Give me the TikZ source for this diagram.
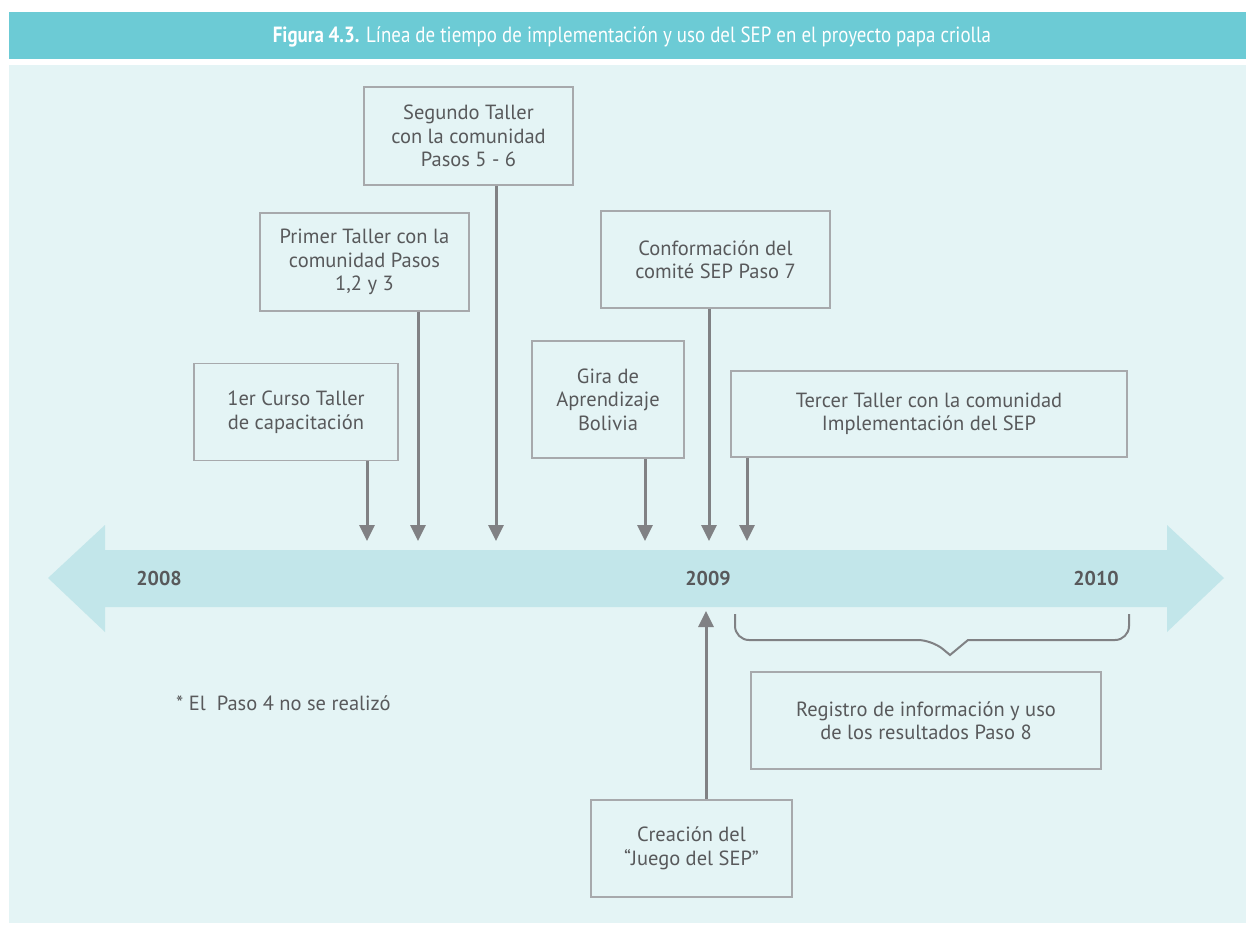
\documentclass[tikz,border=0pt]{standalone}
\usepackage{fontspec}
\setmainfont{PT Sans}
\usetikzlibrary{arrows.meta}
\definecolor{hdr}{HTML}{6CCBD5}
\definecolor{panel}{HTML}{E4F4F5}
\definecolor{band}{HTML}{C2E6EA}
\definecolor{txt}{HTML}{58595B}
\definecolor{edge}{HTML}{A7A9AC}
\definecolor{arrc}{HTML}{808184}
\begin{document}
\begin{tikzpicture}[x=1pt,y=-1pt,
  evbox/.style={draw=edge,line width=1.6pt,inner sep=0pt,text=txt,align=center,font=\fontsize{20.5}{23.5}\selectfont},
  arr/.style={draw=arrc,line width=3pt,-{Triangle[length=16pt,width=15pt]}},
  yr/.style={text=txt,font=\fontsize{20}{22}\selectfont\bfseries}]
\useasboundingbox (0,0) rectangle (1246,924);
\fill[white] (0,0) rectangle (1246,924);
\fill[hdr] (9,12) rectangle (1246,59);
\fill[panel] (9,65) rectangle (1246,923);
\node[text=white,font=\fontsize{22}{26}\selectfont] (title) at (632,37) {\scalebox{0.86}[1]{\textbf{Figura 4.3.} Línea de tiempo de implementación y uso del SEP en el proyecto papa criolla}};
% timeline
\fill[band] (48,578) -- (105,525) -- (105,550) -- (1167,550) -- (1167,525) -- (1224,578) -- (1167,632) -- (1167,607) -- (105,607) -- (105,632) -- cycle;
\node[yr] (y8) at (159,578) {2008};
\node[yr] (y9) at (708,578) {2009};
\node[yr] (y10) at (1096,578) {2010};
% boxes
\node[evbox,minimum width=204pt,minimum height=97pt] (b1) at (296,412) {1er Curso Taller\\de capacitación};
\node[evbox,minimum width=209pt,minimum height=98pt] (b2) at (364.5,262) {Primer Taller con la\\comunidad Pasos\\1,2 y 3};
\node[evbox,minimum width=209pt,minimum height=98pt] (b3) at (468.5,136) {Segundo Taller\\con la comunidad\\Pasos 5 - 6};
\node[evbox,minimum width=152pt,minimum height=117pt] (b4) at (608,399.5) {Gira de\\Aprendizaje\\Bolivia};
\node[evbox,minimum width=229pt,minimum height=97pt] (b5) at (715.5,259.5) {Conformación del\\comité SEP Paso 7};
\node[evbox,minimum width=396pt,minimum height=86pt] (b6) at (929,414) {Tercer Taller con la comunidad\\Implementación del SEP};
\node[evbox,minimum width=350pt,minimum height=97pt] (b7) at (926,720.5) {Registro de información y uso\\de los resultados Paso 8};
\node[evbox,minimum width=201pt,minimum height=97pt] (b8) at (691.5,848.5) {Creación del\\“Juego del SEP”};
\node[text=txt,font=\fontsize{20.5}{23}\selectfont,anchor=west,inner sep=0pt] (note) at (176,703) {* El\ \ Paso 4 no se realizó};
% arrow ends
\coordinate (t1) at (367,541);
\coordinate (t2) at (418,541);
\coordinate (t3) at (496,541);
\coordinate (t4) at (645,541);
\coordinate (t5) at (709,541);
\coordinate (t6) at (747,541);
\coordinate (t8) at (706,611);
\draw[arr] (b1.south -| t1) -- (t1);
\draw[arr] (b2.south -| t2) -- (t2);
\draw[arr] (b3.south -| t3) -- (t3);
\draw[arr] (b4.south -| t4) -- (t4);
\draw[arr] (b5.south -| t5) -- (t5);
\draw[arr] (b6.south -| t6) -- (t6);
\draw[arr] (b8.north -| t8) -- (t8);
% brace
\coordinate (brl) at (735,614);
\coordinate (brr) at (1129,614);
\coordinate (brt) at (950,655);
\draw[draw=arrc,line width=2pt,rounded corners=14pt] (brl) -- (735,640) -- (932,640) [sharp corners] -- (brt) -- (968,640) [rounded corners=14pt] -- (1129,640) -- (brr);
\end{tikzpicture}
\end{document}
